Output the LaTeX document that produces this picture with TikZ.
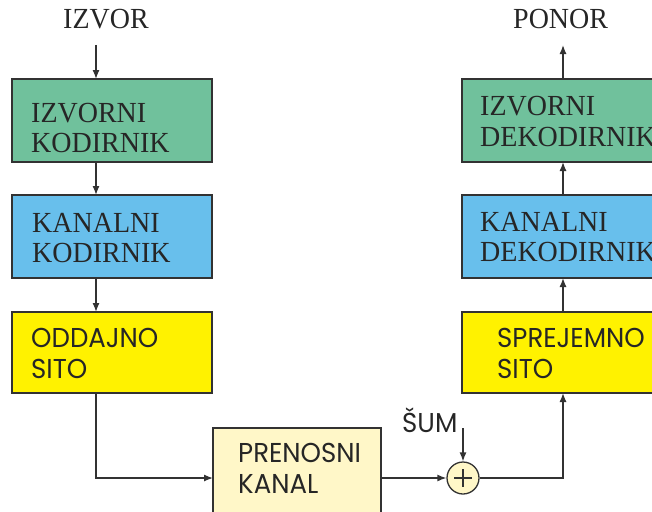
\documentclass[tikz,border=0pt]{standalone}
\usepackage{fontspec}
\setmainfont{Liberation Serif}
\newfontfamily\gothic{Poppins}
\usetikzlibrary{arrows.meta,calc}
\definecolor{boxgreen}{RGB}{112,193,156}
\definecolor{boxblue}{RGB}{104,191,236}
\definecolor{boxyellow}{RGB}{255,242,0}
\definecolor{boxcream}{RGB}{255,247,200}
\definecolor{edge}{RGB}{50,50,50}
\begin{document}
\begin{tikzpicture}[x=1pt,y=-1pt,
  blk/.style={draw=edge,line width=1.5pt},
  serif/.style={anchor=base west,inner sep=0pt,font=\fontsize{28}{30}\selectfont,text=black!85,yscale=1.04},
  sans/.style={anchor=base west,inner sep=0pt,font=\gothic\fontsize{26}{28}\selectfont,text=black!85,yscale=1.05},
  conn/.style={draw=edge,line width=1.3pt,-{Latex[length=9pt,width=7pt]}}]
\useasboundingbox (0,0) rectangle (652,511);
\clip (0,0) rectangle (652,511);
% left column
\path[blk,fill=boxgreen] (12,79) rectangle (212,162);
\path[blk,fill=boxblue] (12,195) rectangle (212,278);
\path[blk,fill=boxyellow] (12,312) rectangle (212,393);
\coordinate (g1t) at (96,79);
\coordinate (g1b) at (96,162);
\coordinate (b1t) at (96,195);
\coordinate (b1b) at (96,278);
\coordinate (y1t) at (96,312);
\coordinate (y1b) at (96,393);
% right column
\path[blk,fill=boxgreen] (462,79) rectangle (700,162);
\path[blk,fill=boxblue] (462,195) rectangle (700,278);
\path[blk,fill=boxyellow] (462,312) rectangle (700,393);
\coordinate (g2t) at (563,79);
\coordinate (g2b) at (563,162);
\coordinate (b2t) at (563,195);
\coordinate (b2b) at (563,278);
\coordinate (y2t) at (563,312);
\coordinate (y2b) at (563,393);
% channel
\path[blk,fill=boxcream] (213,428) rectangle (381,530);
\coordinate (chl) at (213,478);
\coordinate (chr) at (381,478);
\node[circle,draw=edge,line width=1.3pt,fill=boxcream,minimum size=32pt,inner sep=0pt] (sum) at (463,478) {};
\draw[edge,line width=1.3pt] ($(sum.center)+(-9,0)$) -- ($(sum.center)+(9,0)$);
\draw[edge,line width=1.3pt] ($(sum.center)+(0,-9)$) -- ($(sum.center)+(0,9)$);
% texts
\node[serif] (izvor) at (63,29) {IZVOR};
\node[serif] (ponor) at (513,29) {PONOR};
\node[serif] at (31,122) {IZVORNI};
\node[serif] at (31,152) {KODIRNIK};
\node[serif] at (32,232) {KANALNI};
\node[serif] at (32,262) {KODIRNIK};
\node[serif] at (480,115) {IZVORNI};
\node[serif] at (480,146) {DEKODIRNIK};
\node[serif] at (480,231) {KANALNI};
\node[serif] at (480,261) {DEKODIRNIK};
\node[sans] at (31,347) {ODDAJNO};
\node[sans] at (31,378) {SITO};
\node[sans] at (497,347) {SPREJEMNO};
\node[sans] at (497,378) {SITO};
\node[sans] at (238,462) {PRENOSNI};
\node[sans] at (238,493) {KANAL};
\node[sans] (sumtxt) at (402,432) {ŠUM};
% connectors
\coordinate (in) at (96,45);
\coordinate (out) at (563,45);
\coordinate (noise) at (463,428);
\draw[conn] (in) -- (g1t);
\draw[conn] (g1b) -- (b1t);
\draw[conn] (b1b) -- (y1t);
\draw[conn] (y1b) |- (chl);
\draw[conn] (chr) -- (sum.west);
\draw[conn] (noise) -- (sum.north);
\draw[conn] (sum.east) -| (y2b);
\draw[conn] (y2t) -- (b2b);
\draw[conn] (b2t) -- (g2b);
\draw[conn] (g2t) -- (out);
\end{tikzpicture}
\end{document}
